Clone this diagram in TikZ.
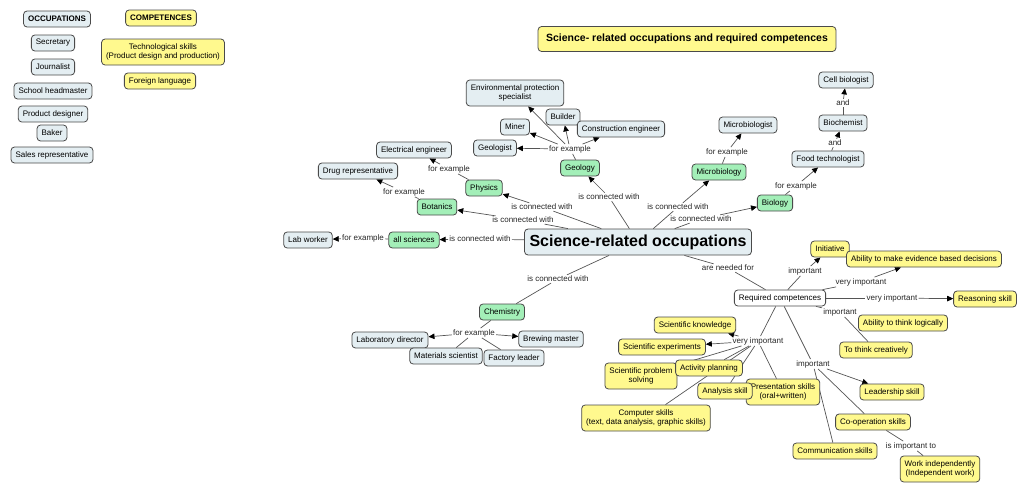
\documentclass[tikz,border=0pt]{standalone}
\usepackage{fontspec}
\setmainfont{Liberation Sans}
\usetikzlibrary{arrows.meta,backgrounds}
\definecolor{occf}{HTML}{E4EEF2}
\definecolor{scif}{HTML}{A3EFB8}
\definecolor{compf}{HTML}{FFF98E}
\definecolor{edge}{HTML}{555555}
\definecolor{bord}{HTML}{4A4A4A}
\tikzset{
  box/.style={draw=bord, line width=0.8pt, rounded corners=3.5pt, inner xsep=4.5pt, inner ysep=2pt, minimum height=16pt, font=\fontsize{8}{8.6}\selectfont, align=center},
  occ/.style={box, fill=occf},
  sci/.style={box, fill=scif},
  comp/.style={box, fill=compf},
  two/.style={minimum height=26pt},
  lbl/.style={font=\fontsize{8}{9}\selectfont, inner sep=1pt, text=black!85},
  ln/.style={draw=edge, line width=0.7pt},
  arr/.style={ln, -{Triangle[length=6pt,width=5.5pt,color=black,fill=black]}},
}
\begin{document}
\begin{tikzpicture}[x=1pt,y=-1pt]
\useasboundingbox (0,0) rectangle (1020,482);
% legend
\node[occ, font=\bfseries\fontsize{8}{9}\selectfont] (occh) at (57,19) {OCCUPATIONS};
\node[comp, font=\bfseries\fontsize{8}{9}\selectfont] (comph) at (161,18) {COMPETENCES};
\node[occ] (sec) at (53,43) {Secretary};
\node[occ] (jou) at (53,67) {Journalist};
\node[occ] (sch) at (53,91) {School headmaster};
\node[occ] (pro) at (53,114) {Product designer};
\node[occ] (bak) at (52,133) {Baker};
\node[occ] (sal) at (52,155) {Sales representative};
\node[comp, two] (tec) at (163,52) {Technological skills\\(Product design and production)};
\node[comp] (fl) at (160,81) {Foreign language};
% title
\node[comp, font=\bfseries\fontsize{10.5}{12}\selectfont, minimum height=25pt, inner xsep=8pt] (title) at (687,39) {Science- related occupations and required competences};
% main
\node[occ, font=\bfseries\fontsize{16}{18}\selectfont, minimum height=26pt, inner xsep=5pt] (main) at (638,242) {Science-related occupations};
% sciences
\node[sci] (alls) at (414,240) {all sciences};
\node[sci] (bot) at (437,207) {Botanics};
\node[sci] (phy) at (484,188) {Physics};
\node[sci] (geo) at (580,168) {Geology};
\node[sci] (mic) at (719,172) {Microbiology};
\node[sci] (bio) at (775,203) {Biology};
\node[sci] (che) at (502,312) {Chemistry};
% occupations
\node[occ] (lab) at (308,240) {Lab worker};
\node[occ] (drug) at (358,171) {Drug representative};
\node[occ] (ele) at (414,150) {Electrical engineer};
\node[occ] (geol) at (495,148) {Geologist};
\node[occ] (min) at (515,127) {Miner};
\node[occ] (bui) at (563,117) {Builder};
\node[occ] (con) at (621,129) {Construction engineer};
\node[occ, two] (env) at (515,93) {Environmental protection\\specialist};
\node[occ] (micb) at (748,125) {Microbiologist};
\node[occ] (food) at (828,159) {Food technologist};
\node[occ] (bioc) at (843,123) {Biochemist};
\node[occ] (cell) at (846,80) {Cell biologist};
\node[occ] (labd) at (390,340) {Laboratory director};
\node[occ] (brew) at (551,339) {Brewing master};
\node[occ] (mat) at (446,356) {Materials scientist};
\node[occ] (fac) at (514,358) {Factory leader};
% competences
\node[box, fill=white] (rc) at (780,298) {Required competences};
\node[comp] (ini) at (830,249) {Initiative};
\node[comp] (evi) at (924,259) {Ability to make evidence based decisions};
\node[comp] (rea) at (985,299) {Reasoning skill};
\node[comp] (log) at (903,323) {Ability to think logically};
\node[comp] (cre) at (876,350) {To think creatively};
\node[comp] (skn) at (695,325) {Scientific knowledge};
\node[comp] (sex) at (662,347) {Scientific experiments};
\node[comp, two] (sps) at (641,376) {Scientific problem\\solving};
\node[comp] (act) at (709,368) {Activity planning};
\node[comp, two] (pre) at (783,392) {Presentation skills\\(oral+written)};
\node[comp] (ana) at (725,391) {Analysis skill};
\node[comp, two] (com) at (646,418) {Computer skills\\(text, data analysis, graphic skills)};
\node[comp] (comm) at (835,451) {Communication skills};
\node[comp] (lea) at (892,392) {Leadership skill};
\node[comp] (coo) at (873,422) {Co-operation skills};
\node[comp, two] (work) at (940,469) {Work independently\\(Independent work)};
% labels
\node[lbl] (l1) at (480,239) {is connected with};
\node[lbl] (l2) at (523,220) {is connected with};
\node[lbl] (l3) at (542,207) {is connected with};
\node[lbl] (l4) at (609,197) {is connected with};
\node[lbl] (l5) at (678,207) {is connected with};
\node[lbl] (l6) at (701,219) {is connected with};
\node[lbl] (l7) at (558,279) {is connected with};
\node[lbl] (f1) at (363,238) {for example};
\node[lbl] (f2) at (404,192) {for example};
\node[lbl] (f3) at (449,169) {for example};
\node[lbl] (f4) at (570,149) {for example};
\node[lbl] (f5) at (727,152) {for example};
\node[lbl] (f6) at (796,186) {for example};
\node[lbl] (f7) at (474,333) {for example};
\node[lbl] (a1) at (835,143) {and};
\node[lbl] (a2) at (843,103) {and};
\node[lbl] (nf) at (728,268) {are needed for};
\node[lbl] (i1) at (805,271) {important};
\node[lbl] (v1) at (861,282) {very important};
\node[lbl] (v2) at (892,298) {very important};
\node[lbl] (i2) at (840,312) {important};
\node[lbl] (v3) at (758,341) {very important};
\node[lbl] (i3) at (813,364) {important};
\node[lbl] (it) at (911,446) {is important to};
% connectors
\begin{scope}[on background layer]
\draw[ln] (main) -- (l1); \draw[arr] (l1) -- (alls);
\draw[ln] (main) -- (l2); \draw[arr] (l2) -- (bot);
\draw[ln] (main) -- (l3); \draw[arr] (l3) -- (phy);
\draw[ln] (main) -- (l4); \draw[arr] (l4) -- (geo);
\draw[ln] (main) -- (l5); \draw[arr] (l5) -- (mic);
\draw[ln] (main) -- (l6); \draw[arr] (l6) -- (bio);
\draw[ln] (main) -- (l7); \draw[ln] (l7) -- (che);
\draw[ln] (alls) -- (f1); \draw[arr] (f1) -- (lab);
\draw[ln] (bot) -- (f2); \draw[arr] (f2) -- (drug);
\draw[ln] (phy) -- (f3); \draw[arr] (f3) -- (ele);
\draw[ln] (geo) -- (f4);
\draw[arr] (f4) -- (geol); \draw[arr] (f4) -- (min); \draw[arr] (f4) -- (bui);
\draw[arr] (f4) -- (con); \draw[arr] (f4) -- (env);
\draw[ln] (mic) -- (f5); \draw[arr] (f5) -- (micb);
\draw[ln] (bio) -- (f6); \draw[arr] (f6) -- (food);
\draw[ln] (food) -- (a1); \draw[arr] (a1) -- (bioc);
\draw[ln] (bioc) -- (a2); \draw[arr] (a2) -- (cell);
\draw[ln] (che) -- (f7);
\draw[arr] (f7) -- (labd); \draw[arr] (f7) -- (brew);
\draw[ln] (f7) -- (mat); \draw[ln] (f7) -- (fac);
\draw[ln] (main) -- (nf); \draw[ln] (nf) -- (rc);
\draw[ln] (rc) -- (i1); \draw[arr] (i1) -- (ini);
\draw[ln] (rc) -- (v1); \draw[arr] (v1) -- (evi);
\draw[ln] (rc) -- (v2); \draw[arr] (v2) -- (rea);
\draw[ln] (rc) -- (i2); \draw[ln] (i2) -- (cre);
\draw[ln] (rc) -- (v3);
\draw[arr] (v3) -- (skn); \draw[arr] (v3) -- (sex);
\draw[ln] (v3) -- (sps); \draw[ln] (v3) -- (act); \draw[ln] (v3) -- (ana);
\draw[ln] (v3) -- (pre); \draw[ln] (v3) -- (com);
\draw[ln] (rc) -- (i3);
\draw[arr] (i3) -- (lea); \draw[ln] (i3) -- (coo); \draw[ln] (i3) -- (comm);
\draw[ln] (coo) -- (it); \draw[ln] (it) -- (work);
\end{scope}
\end{tikzpicture}
\end{document}
